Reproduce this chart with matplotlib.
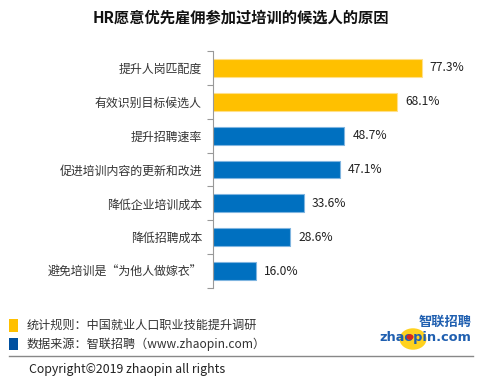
import matplotlib
matplotlib.use("Agg")
import matplotlib.pyplot as plt
from matplotlib.patches import Rectangle, Circle

plt.rcParams['font.family'] = ['Noto Sans CJK SC', 'DejaVu Sans']

categories = ["提升人岗匹配度", "有效识别目标候选人", "提升招聘速率", "促进培训内容的更新和改进",
              "降低企业培训成本", "降低招聘成本", "避免培训是“为他人做嫁衣”"]
values = [77.3, 68.1, 48.7, 47.1, 33.6, 28.6, 16.0]
groups = ["统计规则", "统计规则", "数据来源", "数据来源", "数据来源", "数据来源", "数据来源"]
yellow = "#FFC000"
blue = "#0070C0"
color_map = {"统计规则": yellow, "数据来源": blue}
edge_map = {"统计规则": "#FFE08A", "数据来源": "#7FB5E0"}

W, H = 482, 383
fig = plt.figure(figsize=(W / 100, H / 100), dpi=100)
fig.patch.set_facecolor("white")

ax_left, ax_right, ax_top, ax_bot = 213, 470, 51, 288
ax = fig.add_axes([ax_left / W, 1 - ax_bot / H, (ax_right - ax_left) / W, (ax_bot - ax_top) / H])

n = len(categories)
ypos = list(range(n))
ax.barh(ypos, values, height=0.53,
        color=[color_map[g] for g in groups],
        edgecolor=[edge_map[g] for g in groups], linewidth=0.8)
ax.set_ylim(n - 0.5, -0.5)
ax.set_xlim(0, 95.2)
for y, v in zip(ypos, values):
    ax.text(v + 3.0, y, f"{v:.1f}%", va="center", ha="left", fontsize=8.7, color="#222222")

ax.set_yticks(ypos)
ax.set_yticklabels(categories, fontsize=8.6, color="#333333")
ax.tick_params(axis="y", length=0, pad=8)
ax.set_yticks([i - 0.5 for i in range(n + 1)], minor=True)
ax.tick_params(axis="y", which="minor", length=4, color="#999999", width=0.8)
ax.set_xticks([])
for s in ["top", "right", "bottom"]:
    ax.spines[s].set_visible(False)
ax.spines["left"].set_color("#999999")
ax.spines["left"].set_linewidth(0.8)

fig.text(241 / W, 1 - 17 / H, "HR愿意优先雇佣参加过培训的候选人的原因", ha="center", va="center",
         fontsize=11, fontweight="bold", color="#111111")

# legend / footnotes
fig.patches.append(Rectangle((9 / W, 1 - 332 / H), 9 / W, 13 / H, transform=fig.transFigure,
                             facecolor=yellow, edgecolor="none"))
fig.patches.append(Rectangle((9 / W, 1 - 350 / H), 9 / W, 12 / H, transform=fig.transFigure,
                             facecolor="#0050A0", edgecolor="none"))
fig.text(27 / W, 1 - 325 / H, "统计规则：中国就业人口职业技能提升调研", ha="left", va="center",
         fontsize=8.7, color="#333333")
fig.text(27 / W, 1 - 344 / H, "数据来源：智联招聘（www.zhaopin.com）", ha="left", va="center",
         fontsize=8.7, color="#333333")
fig.add_artist(plt.Line2D([9 / W, 473 / W], [1 - 356 / H, 1 - 356 / H], transform=fig.transFigure,
                          color="#888888", linewidth=1))
fig.text(29 / W, 1 - 369 / H, "Copyright©2019 zhaopin all rights", ha="left", va="center",
         fontsize=8.9, color="#222222")

# logo
fig.patches.append(Circle((413 / W, 1 - 339 / H), 13.5 / W, transform=fig.transFigure,
                          facecolor="#FFD21F", edgecolor="none"))
fig.text(472 / W, 1 - 322 / H, "智联招聘", ha="right", va="center", fontsize=9.5,
         fontweight="bold", color="#1F5FB0", style="italic")
fig.text(471 / W, 1 - 337 / H, "zhaopin.com", ha="right", va="center", fontsize=9.3,
         fontweight="bold", color="#1F5FB0", family="DejaVu Sans")
fig.patches.append(Circle((410 / W, 1 - 337 / H), 3.5 / W, transform=fig.transFigure,
                          facecolor="#D8261C", edgecolor="none", zorder=5))

fig.savefig("out.png", dpi=100, facecolor="white")
